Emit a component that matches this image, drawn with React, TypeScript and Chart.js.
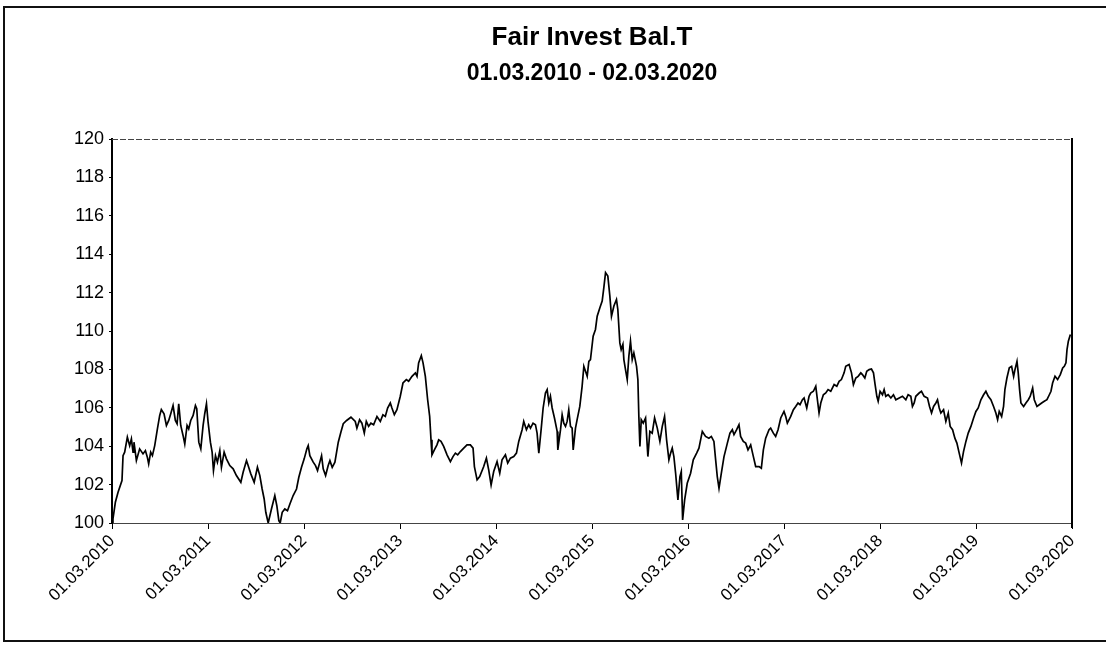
import React, { useEffect, useRef } from "react";
import { Chart, registerables } from "chart.js";

Chart.register(...registerables);

const chartTitle = "Fair Invest Bal.T";
const chartSubtitle = "01.03.2010 - 02.03.2020";

const xTickLabels = [
  "01.03.2010", "01.03.2011", "01.03.2012", "01.03.2013", "01.03.2014", "01.03.2015",
  "01.03.2016", "01.03.2017", "01.03.2018", "01.03.2019", "01.03.2020",
];

const yMin = 100;
const yMax = 120;
const yStep = 2;

// years elapsed since 01.03.2010
const tYears = [
  0, 0.010, 0.035, 0.063, 0.104, 0.115, 0.132, 0.160, 0.184, 0.202, 0.219, 0.229, 0.254, 0.288, 0.323, 0.348,
  0.368, 0.382, 0.403, 0.421, 0.445, 0.473, 0.497, 0.514, 0.542, 0.567, 0.591, 0.612, 0.636, 0.660, 0.678, 0.695,
  0.716, 0.740, 0.758, 0.782, 0.799, 0.820, 0.845, 0.869, 0.883, 0.904, 0.925, 0.949, 0.966, 0.984, 1.001, 1.025,
  1.043, 1.057, 1.078, 1.098, 1.123, 1.140, 1.168, 1.192, 1.227, 1.262, 1.296, 1.342, 1.366, 1.401, 1.418, 1.446,
  1.481, 1.515, 1.540, 1.564, 1.585, 1.602, 1.627, 1.661, 1.696, 1.717, 1.738, 1.752, 1.773, 1.800, 1.828, 1.853,
  1.887, 1.922, 1.946, 1.974, 2.002, 2.030, 2.044, 2.061, 2.096, 2.120, 2.141, 2.165, 2.183, 2.200, 2.225, 2.252,
  2.270, 2.294, 2.322, 2.357, 2.384, 2.409, 2.444, 2.489,
  2.534, 2.551, 2.579, 2.603, 2.628, 2.649, 2.673, 2.697, 2.725, 2.760, 2.795, 2.822, 2.847, 2.871, 2.899, 2.916,
  2.941, 2.968, 3.003, 3.031, 3.066, 3.090, 3.125, 3.160, 3.177, 3.194, 3.222, 3.240, 3.264, 3.288, 3.309, 3.323,
  3.333, 3.358, 3.385, 3.403, 3.427, 3.455, 3.490, 3.525, 3.552, 3.577, 3.601, 3.629, 3.664, 3.698, 3.733, 3.761,
  3.775, 3.803, 3.830, 3.872, 3.900, 3.924, 3.949, 3.976, 4.011, 4.039, 4.063, 4.098, 4.122, 4.150, 4.185, 4.213,
  4.237, 4.272, 4.289, 4.317, 4.341, 4.359, 4.386, 4.411, 4.428, 4.446, 4.470, 4.491, 4.515, 4.533, 4.550, 4.567,
  4.585, 4.609, 4.637, 4.644, 4.672, 4.689, 4.706, 4.724, 4.741, 4.758, 4.776, 4.793, 4.804, 4.828, 4.845, 4.873,
  4.897, 4.915, 4.950, 4.967,
  4.984, 5.012, 5.036, 5.054, 5.082, 5.106, 5.123, 5.141, 5.165, 5.186, 5.203, 5.228, 5.255, 5.269, 5.290, 5.304,
  5.322, 5.332, 5.349, 5.367, 5.384, 5.401, 5.419, 5.436, 5.464, 5.478, 5.488, 5.499, 5.513, 5.534, 5.558, 5.582,
  5.603, 5.627, 5.652, 5.680, 5.707, 5.732, 5.756, 5.777, 5.801, 5.819, 5.836, 5.853, 5.871, 5.895, 5.916, 5.930,
  5.944, 5.965, 5.992, 6.027, 6.055, 6.090, 6.114, 6.149, 6.183, 6.218, 6.243, 6.270, 6.288, 6.305, 6.323, 6.347,
  6.375, 6.410, 6.437, 6.462, 6.479, 6.507, 6.531, 6.548, 6.576, 6.601, 6.625, 6.653, 6.681, 6.705, 6.740, 6.764,
  6.785, 6.809, 6.844, 6.861, 6.889, 6.913, 6.938, 6.966, 7.000, 7.018, 7.035, 7.070, 7.098, 7.122, 7.146, 7.167,
  7.192, 7.209, 7.237, 7.261, 7.278, 7.306, 7.331, 7.348, 7.365, 7.383, 7.410, 7.435, 7.459, 7.487,
  7.522, 7.550, 7.574, 7.598, 7.626, 7.643, 7.678, 7.703, 7.723, 7.748, 7.772, 7.800, 7.817, 7.842, 7.862, 7.887,
  7.911, 7.932, 7.949, 7.967, 7.981, 8.001, 8.026, 8.043, 8.060, 8.085, 8.113, 8.140, 8.165, 8.200, 8.234, 8.269,
  8.293, 8.321, 8.338, 8.356, 8.373, 8.408, 8.432, 8.460, 8.495, 8.516, 8.537, 8.558, 8.582, 8.599, 8.617, 8.634,
  8.662, 8.686, 8.711, 8.731, 8.756, 8.780, 8.801, 8.825, 8.849, 8.870, 8.895, 8.919, 8.947, 8.975, 8.999, 9.023,
  9.051, 9.079, 9.103, 9.128, 9.155, 9.183, 9.207, 9.225, 9.242, 9.267, 9.287, 9.301, 9.322, 9.347, 9.371, 9.392,
  9.406, 9.427, 9.440, 9.454, 9.468, 9.496, 9.520, 9.545, 9.565, 9.590, 9.607, 9.635, 9.659, 9.684, 9.711, 9.739,
  9.764, 9.781, 9.798, 9.823, 9.850, 9.878, 9.903, 9.920, 9.937, 9.948, 9.962, 9.983,
];

// indexed value (start = 100)
const navIndex = [
  100.00, 100.21, 101.08, 101.60, 102.21, 103.51, 103.69, 104.47, 104.03, 104.38, 103.69, 104.21, 103.25, 103.86, 103.60, 103.77,
  103.43, 103.08, 103.69, 103.51, 104.03, 104.90, 105.60, 105.91, 105.69, 105.08, 105.34, 105.69, 106.12, 105.34, 105.17, 106.21,
  105.08, 104.56, 104.12, 105.08, 104.90, 105.34, 105.60, 106.12, 105.95, 104.21, 103.86, 105.08, 105.69, 106.21, 105.25, 104.21,
  103.69, 102.73, 103.51, 103.17, 103.77, 102.90, 103.69, 103.34, 102.99, 102.82, 102.47, 102.12, 102.64, 103.25, 102.99, 102.56,
  102.12, 102.90, 102.47, 101.77, 101.25, 100.56, 100.00, 100.73, 101.43, 100.90, 100.12, 100.00, 100.56, 100.73, 100.64, 100.99,
  101.43, 101.77, 102.38, 102.90, 103.34, 103.86, 104.03, 103.51, 103.17, 102.99, 102.73, 103.17, 103.51, 102.82, 102.47, 102.99,
  103.25, 102.90, 103.17, 104.21, 104.73, 105.17, 105.34, 105.51,
  105.29, 104.94, 105.38, 105.20, 104.68, 105.29, 105.03, 105.20, 105.12, 105.55, 105.29, 105.64, 105.55, 105.99, 106.25, 105.99,
  105.64, 105.90, 106.60, 107.29, 107.47, 107.38, 107.64, 107.82, 107.64, 108.34, 108.72, 108.34, 107.64, 106.42, 105.55, 104.33,
  103.55, 103.81, 104.07, 104.33, 104.25, 103.99, 103.55, 103.20, 103.46, 103.64, 103.55, 103.72, 103.90, 104.07, 104.07, 103.90,
  102.94, 102.25, 102.42, 102.94, 103.38, 102.77, 101.98, 102.68, 103.20, 102.59, 103.29, 103.55, 103.12, 103.38, 103.46, 103.64,
  104.25, 104.86, 105.29, 104.86, 105.12, 104.94, 105.20, 105.12, 104.68, 103.64, 104.86, 105.99, 106.77, 106.95, 106.25, 106.60,
  105.99, 105.47, 104.77, 103.81, 104.86, 105.64, 105.20, 105.03, 105.29, 105.90, 105.03, 104.94, 103.81, 104.94, 105.38, 106.07,
  107.12, 108.16, 107.64, 108.42,
  108.51, 109.73, 110.08, 110.77, 111.21, 111.56, 112.25, 113.04, 112.86, 111.82, 110.77, 111.30, 111.64, 111.12, 109.38, 109.03,
  109.30, 108.51, 107.99, 107.47, 108.69, 109.47, 108.51, 108.86, 108.16, 107.47, 105.55, 103.99, 105.38, 105.20, 105.47, 103.46,
  104.77, 104.68, 105.47, 104.94, 104.25, 105.03, 105.55, 104.33, 103.29, 103.64, 103.90, 103.46, 102.59, 101.20, 102.42, 102.68,
  100.16, 101.20, 102.07, 102.59, 103.29, 103.64, 103.90, 104.77, 104.51, 104.42, 104.51, 104.25, 103.29, 102.42, 101.81, 102.59,
  103.46, 104.16, 104.68, 104.86, 104.60, 104.86, 105.12, 104.51, 104.25, 104.16, 103.81, 104.07, 103.46, 102.94, 102.94, 102.85,
  103.81, 104.42, 104.86, 104.94, 104.68, 104.51, 104.86, 105.47, 105.81, 105.55, 105.20, 105.55, 105.90, 106.07, 106.25, 106.16,
  106.42, 106.51, 105.99, 106.60, 106.77, 106.86, 107.12, 106.42, 105.73, 106.25, 106.68, 106.77, 106.95, 106.86,
  107.21, 107.12, 107.38, 107.47, 107.82, 108.16, 108.25, 107.82, 107.21, 107.55, 107.64, 107.82, 107.73, 107.55, 107.90, 107.99,
  108.02, 107.82, 107.21, 106.60, 106.34, 106.86, 106.68, 106.95, 106.60, 106.68, 106.51, 106.68, 106.42, 106.51, 106.60, 106.42,
  106.68, 106.60, 106.07, 106.25, 106.60, 106.77, 106.86, 106.60, 106.51, 106.07, 105.73, 106.07, 106.25, 106.42, 105.99, 105.73,
  105.90, 105.29, 105.73, 105.03, 104.86, 104.42, 104.16, 103.64, 103.12, 103.72, 104.25, 104.68, 105.03, 105.47, 105.81, 105.99,
  106.42, 106.68, 106.86, 106.60, 106.42, 106.07, 105.73, 105.38, 105.81, 105.55, 106.07, 106.95, 107.55, 108.08, 108.16, 107.64,
  107.99, 108.42, 107.82, 106.95, 106.25, 106.07, 106.25, 106.42, 106.60, 107.03, 106.42, 106.07, 106.16, 106.25, 106.34, 106.42,
  106.68, 106.86, 107.29, 107.64, 107.47, 107.73, 108.08, 108.16, 108.34, 109.03, 109.47, 109.82,
];

const FONT = "'Liberation Sans', Arial, Helvetica, sans-serif";

const framePlugin = {
  id: "plotFrame",
  afterDatasetsDraw(chart: any) {
    const { ctx, chartArea } = chart;
    const { left, right, top, bottom } = chartArea;
    ctx.save();
    ctx.strokeStyle = "#000";
    ctx.lineWidth = 2;
    ctx.beginPath();
    ctx.moveTo(right, top - 1);
    ctx.lineTo(right, bottom + 5);
    ctx.stroke();
    ctx.lineWidth = 1;
    ctx.strokeStyle = "#444";
    ctx.setLineDash([6, 2]);
    ctx.beginPath();
    ctx.moveTo(left, top + 0.5);
    ctx.lineTo(right, top + 0.5);
    ctx.stroke();
    ctx.restore();
  },
};

export default function App() {
  const canvasRef = useRef<HTMLCanvasElement | null>(null);

  useEffect(() => {
    const canvas = canvasRef.current;
    if (!canvas) return;
    const points = tYears.map((t, i) => ({ x: t, y: navIndex[i] }));
    const chart = new Chart(canvas, {
      type: "line",
      data: {
        datasets: [
          {
            data: points,
            borderColor: "#000",
            borderWidth: 1.7,
            pointRadius: 0,
            tension: 0,
            fill: false,
          },
        ],
      },
      options: {
        animation: false,
        responsive: false,
        devicePixelRatio: 1,
        layout: { padding: { top: 0, left: 0, right: 34, bottom: 0 } },
        plugins: {
          legend: { display: false },
          tooltip: { enabled: false },
          title: {
            display: true,
            fullSize: false,
            text: chartTitle,
            color: "#000",
            font: { family: FONT, size: 26, weight: "bold", lineHeight: 1.2 },
            padding: { top: 22, bottom: 0 },
          },
          subtitle: {
            display: true,
            fullSize: false,
            text: chartSubtitle,
            color: "#000",
            font: { family: FONT, size: 23, weight: "bold", lineHeight: 1.2 },
            padding: { top: 7, bottom: 51.2 },
          },
        },
        scales: {
          x: {
            type: "linear",
            min: 0,
            max: xTickLabels.length - 1,
            afterBuildTicks: (scale: any) => {
              scale.ticks = xTickLabels.map((_, i) => ({ value: i }));
            },
            afterFit: (scale: any) => {
              scale.height = 122;
            },
            ticks: {
              autoSkip: false,
              maxRotation: 45,
              minRotation: 45,
              color: "#000",
              padding: 2,
              font: { family: FONT, size: 17 },
              callback: (_v: any, i: number) => xTickLabels[i],
            },
            grid: { drawOnChartArea: false, drawTicks: true, tickLength: 6, color: "#000", lineWidth: 1 },
            border: { display: true, color: "#444", width: 1, dash: [6, 2] },
          },
          y: {
            min: yMin,
            max: yMax,
            afterFit: (scale: any) => {
              scale.width = 112;
            },
            ticks: {
              stepSize: yStep,
              color: "#000",
              padding: 5,
              font: { family: FONT, size: 18 },
            },
            grid: { drawOnChartArea: false, drawTicks: true, tickLength: 3, color: "#000" },
            border: { display: true, color: "#000", width: 2 },
          },
        },
      },
      plugins: [framePlugin],
    });
    return () => chart.destroy();
  }, []);

  return (
    <div
      style={{
        position: "fixed",
        left: 0,
        top: 0,
        width: 1106,
        height: 645,
        background: "#fff",
        overflow: "hidden",
      }}
    >
      <canvas ref={canvasRef} width={1106} height={645} style={{ position: "absolute", left: 0, top: 0 }} />
      <div
        style={{
          position: "absolute",
          left: 3,
          top: 6,
          width: 1120,
          height: 632,
          border: "2px solid #111",
          pointerEvents: "none",
        }}
      />
    </div>
  );
}
